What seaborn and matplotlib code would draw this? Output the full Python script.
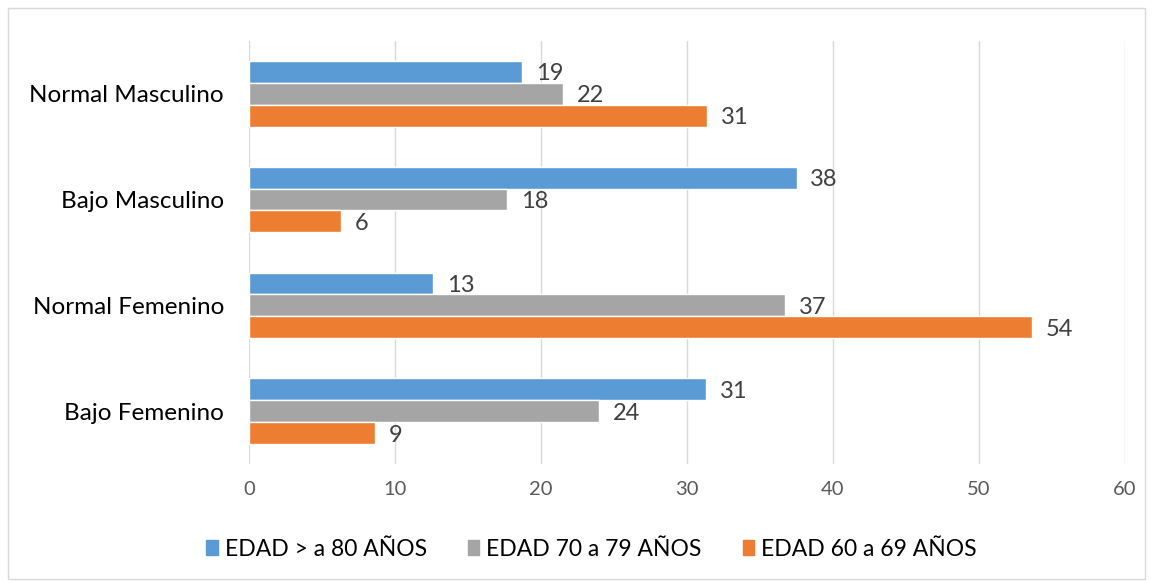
import matplotlib
matplotlib.use("Agg")
import matplotlib.pyplot as plt
from matplotlib.patches import Rectangle
import pandas as pd
import seaborn as sns

categories = ["Normal Masculino", "Bajo Masculino", "Normal Femenino", "Bajo Femenino"]
series = ["EDAD > a 80 AÑOS", "EDAD 70 a 79 AÑOS", "EDAD 60 a 69 AÑOS"]
edad_80 = [18.7, 37.5, 12.6, 31.3]
edad_70 = [21.5, 17.7, 36.7, 24.0]
edad_60 = [31.4, 6.3, 53.6, 8.6]
colors = ["#5B9BD5", "#A5A5A5", "#ED7D31"]

rows = []
for name, vals in zip(series, [edad_80, edad_70, edad_60]):
    for cat, v in zip(categories, vals):
        rows.append({"grupo": cat, "edad": name, "valor": v})
df = pd.DataFrame(rows)

sns.set_style("white")
plt.rcParams["font.family"] = ["Lato", "DejaVu Sans"]

fig = plt.figure(figsize=(11.53, 5.83), dpi=100)
ax = fig.add_axes([0.216, 0.204, 0.7597, 0.726])

sns.barplot(data=df, x="valor", y="grupo", hue="edad", order=categories,
            hue_order=series, palette=colors, orient="h", width=0.62,
            gap=0, saturation=1, ax=ax, legend=False)

for cont in ax.containers:
    labels = ax.bar_label(cont, fmt="%.0f", padding=10, fontsize=17, color="#404040")
    for t in labels:
        # nudge a little below the bar centre, like the original
        t.xyann = (t.xyann[0], -1.5)

ax.set_xlim(0, 60)
ax.set_xticks(range(0, 61, 10))
ax.xaxis.grid(True, color="#D9D9D9", linewidth=1)
ax.set_axisbelow(True)
for sp in ax.spines.values():
    sp.set_visible(False)
ax.tick_params(axis="x", length=0, labelsize=14.5, labelcolor="#595959", pad=12)
ax.tick_params(axis="y", length=0, labelsize=17.5, labelcolor="#000000", pad=18)
ax.set_xlabel("")
ax.set_ylabel("")

handles = [Rectangle((0, 0), 1, 1, color=c) for c in colors]
fig.legend(handles, series, loc="center", bbox_to_anchor=(0.513, 0.058), ncol=3,
           frameon=False, fontsize=16.5, handlelength=0.5, handleheight=0.65,
           handletextpad=0.3, columnspacing=1.8, labelcolor="#000000")

fig.patches.append(Rectangle((0.007, 0.007), 0.986, 0.979, transform=fig.transFigure,
                             fill=False, edgecolor="#D9D9D9", linewidth=1))

fig.savefig("out.png", dpi=100)
